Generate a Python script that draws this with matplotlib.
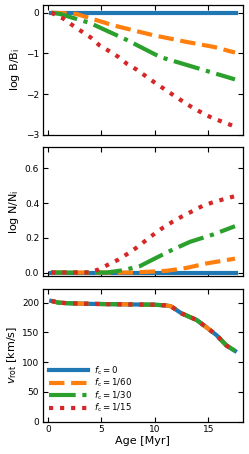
import matplotlib
matplotlib.use("Agg")
import matplotlib.pyplot as plt
import numpy as np

plt.rcParams['font.family'] = ['DejaVu Sans']

# ---- data ----
labels = [r"$f_{\rm c}=0$", r"$f_{\rm c}=1/60$", r"$f_{\rm c}=1/30$", r"$f_{\rm c}=1/15$"]
colors = ["#1f77b4", "#ff7f0e", "#2ca02c", "#d62728"]
styles = ["-", "--", "-.", ":"]

# log B/B_i
b_age_0 = [0.3, 17.6]
b_val_0 = [0.0, 0.0]
b_age_60 = [0.3, 1.0, 2.65, 6.1, 9.8, 13.0, 15.5, 17.5]
b_val_60 = [0.0, -0.005, -0.03, -0.31, -0.55, -0.72, -0.84, -0.98]
b_age_30 = [0.3, 1.1, 3.9, 7.3, 10.5, 14.2, 17.5]
b_val_30 = [0.0, -0.03, -0.25, -0.66, -1.09, -1.38, -1.64]
b_age_15 = [0.3, 1.4, 2.3, 3.2, 4.0, 4.8, 5.7, 6.6, 7.4, 8.3, 9.2, 10.0, 10.9,
            11.75, 12.6, 13.5, 14.4, 15.3, 16.3, 17.4]
b_val_15 = [0.0, -0.14, -0.31, -0.47, -0.61, -0.80, -0.94, -1.09, -1.26, -1.40,
            -1.57, -1.72, -1.88, -2.03, -2.18, -2.33, -2.46, -2.58, -2.68, -2.79]

# log N/N_i
n_age_0 = [0.3, 17.6]
n_val_0 = [0.0, 0.0]
n_age_60 = [0.3, 8.0, 11.1, 13.0, 14.8, 17.5]
n_val_60 = [0.0, 0.0, 0.01, 0.027, 0.052, 0.08]
n_age_30 = [0.3, 5.5, 7.0, 8.6, 10.2, 11.7, 13.3, 15.5, 17.5]
n_val_30 = [0.0, 0.0, 0.013, 0.037, 0.087, 0.133, 0.177, 0.22, 0.267]
n_age_15 = [0.3, 3.8, 4.7, 6.6, 7.5, 8.3, 9.2, 10.0, 10.8, 11.7, 12.6, 13.6,
            14.5, 15.6, 17.5]
n_val_15 = [0.0, 0.0, 0.017, 0.075, 0.11, 0.144, 0.187, 0.225, 0.26, 0.294,
            0.325, 0.356, 0.385, 0.408, 0.44]

# v_rot
v_age = [0.3, 1.0, 2.0, 4.0, 6.0, 8.0, 10.0, 11.0, 11.5, 12.5, 13.9, 14.8,
         15.8, 16.7, 17.5]
v_val = [203, 200, 199, 198, 197.5, 197, 196.5, 195.5, 194, 182, 171, 159,
         145, 128, 119]

b_series = [(b_age_0, b_val_0), (b_age_60, b_val_60), (b_age_30, b_val_30), (b_age_15, b_val_15)]
n_series = [(n_age_0, n_val_0), (n_age_60, n_val_60), (n_age_30, n_val_30), (n_age_15, n_val_15)]

W, H = 249, 454
fig = plt.figure(figsize=(W / 100, H / 100), dpi=100)

def px_axes(top, bottom, left=42.7, right=243.0):
    return fig.add_axes([left / W, 1 - bottom / H, (right - left) / W, (bottom - top) / H])

ax1 = px_axes(5, 134.7)
ax2 = px_axes(147, 276)
ax3 = px_axes(289, 421.7)

lw = 3.0
for (a, v), c, s in zip(b_series, colors, styles):
    ax1.plot(a, v, color=c, ls=s, lw=lw)
for (a, v), c, s in zip(n_series, colors, styles):
    ax2.plot(a, v, color=c, ls=s, lw=lw)
for lab, c, s in zip(labels, colors, styles):
    ax3.plot(v_age, v_val, color=c, ls=s, lw=lw, label=lab)

for ax in (ax1, ax2, ax3):
    ax.set_xlim(-0.5, 18.25)
    ax.set_xticks([0, 5, 10, 15])
    ax.tick_params(direction='in', top=True, right=True, length=3.5, width=0.8,
                   labelsize=6.5, pad=2.5)
    for sp in ax.spines.values():
        sp.set_linewidth(0.9)

ax1.set_ylim(-3.0, 0.19)
ax1.set_yticks([0, -1, -2, -3])
ax1.set_xticklabels([])
ax1.set_ylabel(r"log B/B$_{\rm i}$", fontsize=8, labelpad=3)

ax2.set_ylim(-0.02, 0.723)
ax2.set_yticks([0.0, 0.2, 0.4, 0.6])
ax2.set_yticklabels(["0.0", "0.2", "0.4", "0.6"])
ax2.set_xticklabels([])
ax2.set_ylabel(r"log N/N$_{\rm i}$", fontsize=8, labelpad=3)

ax3.set_ylim(0, 223)
ax3.set_yticks([0, 50, 100, 150, 200])
ax3.set_ylabel(r"$v_{\rm rot}$ [km/s]", fontsize=8, labelpad=2)
ax3.set_xlabel("Age [Myr]", fontsize=8, labelpad=1)
ax3.legend(loc='lower left', bbox_to_anchor=(0.0, 0.01), frameon=False, fontsize=6.2,
           handlelength=4.6, handletextpad=0.6, labelspacing=0.0, borderaxespad=0.3)

fig.savefig("out.png", dpi=100)
